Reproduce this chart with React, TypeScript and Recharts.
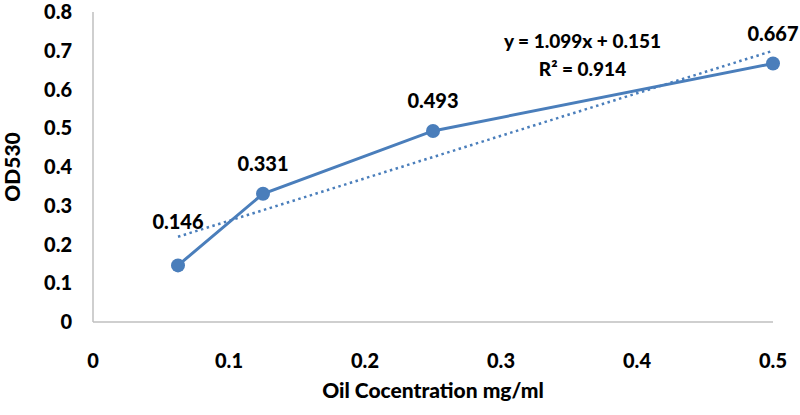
import { LineChart, Line, XAxis, YAxis, LabelList } from 'recharts';

// concentrations (mg/ml) and measured OD530
const concentrations = [0.0625, 0.125, 0.25, 0.5];
const od530 = [0.146, 0.331, 0.493, 0.667];
// linear trendline end values
const trendEnds = [0.22, 0.70];

const xTicks = [0, 0.1, 0.2, 0.3, 0.4, 0.5];
const yTicks = [0, 0.1, 0.2, 0.3, 0.4, 0.5, 0.6, 0.7, 0.8];

const data = concentrations.map((x, i) => ({
  x,
  od: od530[i],
  trend: i === 0 ? trendEnds[0] : i === concentrations.length - 1 ? trendEnds[1] : null,
}));

const FONT = 'Lato, "Open Sans", sans-serif';
const BLUE = '#4A7EBB';
const tickStyle = { fontSize: 20, fontWeight: 900, fill: '#000', fontFamily: FONT };

const renderLabel = (props: any) => {
  const { x, y, value, index } = props;
  const dy = index === 0 ? -44 : -31;
  return (
    <text x={x} y={y + dy} textAnchor="middle" dominantBaseline="central"
      style={tickStyle}>
      {value}
    </text>
  );
};

export default function App() {
  return (
    <div style={{ position: 'absolute', left: 0, top: 0, width: 800, height: 415, background: '#fff' }}>
      <LineChart width={800} height={415} data={data} margin={{ top: 12, right: 27, left: 0, bottom: 0 }}>
        <XAxis
          dataKey="x"
          type="number"
          domain={[0, 0.5]}
          ticks={xTicks}
          height={93}
          tickLine={false}
          tickSize={0}
          tickMargin={32}
          axisLine={{ stroke: '#BFBFBF', strokeWidth: 1.5 }}
          tick={tickStyle}
          label={{ value: 'Oil Cocentration mg/ml', position: 'center', dy: 22, style: { ...tickStyle, fontSize: 21 } }}
        />
        <YAxis
          type="number"
          domain={[0, 0.8]}
          ticks={yTicks}
          width={93}
          tickLine={false}
          tickSize={0}
          tickMargin={21}
          axisLine={{ stroke: '#BFBFBF', strokeWidth: 1.5 }}
          tick={tickStyle}
          label={{ value: 'OD530', angle: -90, position: 'center', dx: -34, style: { ...tickStyle, fontSize: 21 } }}
        />
        <Line
          dataKey="trend"
          connectNulls
          stroke={BLUE}
          strokeWidth={2.5}
          strokeDasharray="2.5 3.5"
          dot={false}
          activeDot={false}
          isAnimationActive={false}
        />
        <Line
          dataKey="od"
          stroke={BLUE}
          strokeWidth={3}
          dot={{ r: 7, fill: BLUE, stroke: BLUE, strokeWidth: 0 }}
          activeDot={false}
          isAnimationActive={false}
        >
          <LabelList dataKey="od" content={renderLabel} />
        </Line>
      </LineChart>
      <div style={{ position: 'absolute', left: 480, top: 27, width: 205, textAlign: 'center', fontFamily: FONT, fontWeight: 900, fontSize: 19, lineHeight: '28px', color: '#000' }}>
        <div>y = 1.099x + 0.151</div>
        <div>R² = 0.914</div>
      </div>
    </div>
  );
}
